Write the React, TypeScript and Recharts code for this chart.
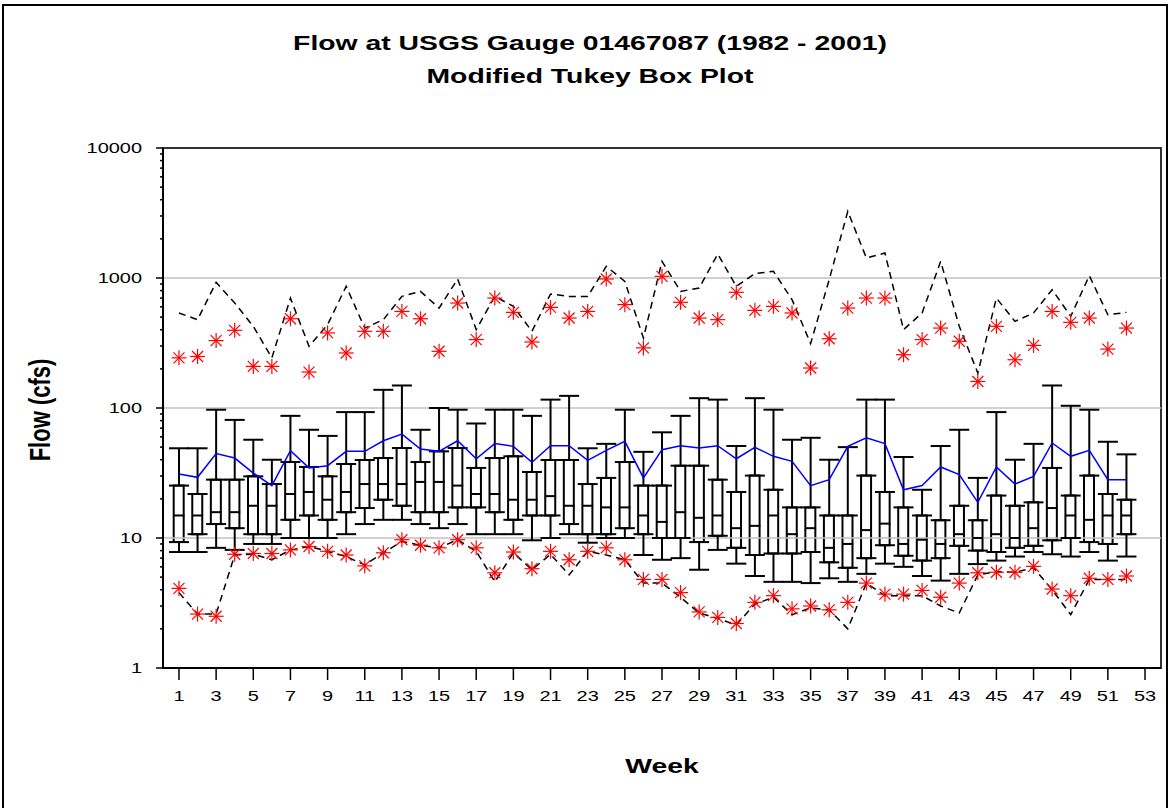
import {
  ComposedChart, Bar, Line, Scatter, ErrorBar, XAxis, YAxis, ReferenceLine, ReferenceArea,
} from 'recharts';

// weekly flow statistics, USGS gauge 01467087, 1982-2001 (cfs)
const weeks = Array.from({ length: 52 }, (_, i) => i + 1);

const whiskerHigh = [
  49, 49, 97, 81, 57, 40, 87, 68, 61, 93,
  93, 138, 149, 68, 100, 97, 76, 97, 97, 87,
  116, 124, 49, 53, 97, 46, 65, 87, 119, 116,
  51, 119, 97, 57, 59, 40, 50, 116, 116, 42,
  23.5, 51, 68, 29, 93, 40, 53, 149, 104, 97,
  55, 44,
];
const q3 = [
  25.3, 21.8, 28.1, 28.1, 29.8, 26, 38.4, 35.2, 29.8, 37.1,
  39.8, 41.2, 49.2, 38.4, 46.4, 49.2, 34.6, 41.2, 42.5, 32.2,
  39.8, 39.8, 26, 29, 38.4, 25.3, 25.3, 36, 36, 28.1,
  22.6, 30.2, 23.5, 17.2, 17.2, 14.9, 14.9, 30.2, 22.6, 17.2,
  14.9, 13.7, 17.7, 13.7, 21.2, 17.7, 18.8, 34.6, 21.2, 30.2,
  21.8, 19.7,
];
const median = [
  14.9, 14.9, 15.8, 15.8, 17.7, 17.7, 21.8, 22.6, 19.7, 22.6,
  26, 26, 26, 27, 27, 25.3, 21.8, 21.8, 19.7, 19.7,
  21, 17.7, 17.7, 17.2, 17.2, 14.9, 13.3, 15.8, 14.3, 14.9,
  11.9, 12.4, 14.9, 10.7, 11.9, 8.4, 9.0, 11.5, 12.9, 9.0,
  9.7, 9.0, 10.7, 10, 10.7, 10, 11.9, 17, 14.9, 13.8,
  14.9, 14.9,
];
const q1 = [
  9.3, 10.7, 12.8, 11.9, 10.7, 10.7, 13.8, 14.9, 13.8, 15.8,
  17, 19.7, 17.7, 15.8, 15.8, 17.2, 17.2, 15.8, 13.8, 14.9,
  14.9, 12.8, 10.7, 10.7, 11.9, 10.7, 10, 10, 9.3, 10.4,
  8.4, 7.4, 7.6, 7.6, 7.8, 6.5, 5.9, 7.0, 8.8, 7.3,
  6.7, 7.0, 8.7, 8.0, 7.8, 8.4, 8.7, 9.6, 10, 9.3,
  9.0, 10.7,
];
const whiskerLow = [
  7.8, 7.8, 8.4, 8.1, 9.0, 9.0, 10, 10, 10, 10.7,
  12.8, 13.8, 13.8, 12.8, 11.9, 12.8, 10.7, 10.7, 10.7, 9.6,
  10, 10.7, 9.2, 10, 10, 7.4, 6.8, 7.0, 5.7, 8.1,
  6.35, 5.1, 4.6, 4.6, 4.5, 4.9, 4.6, 5.3, 6.35, 6.0,
  5.1, 4.7, 5.3, 6.3, 6.7, 7.2, 7.8, 7.5, 7.2, 7.8,
  6.7, 7.2,
];
const mean = [
  31.1, 29.3, 44.6, 41.2, 31.6, 25.3, 47, 34.6, 36, 46.4,
  46.4, 56, 63, 48.4, 46.4, 56, 40.7, 53.2, 50.7, 38.2,
  51.3, 51.3, 39.6, 47.2, 55.4, 29, 47.8, 51.3, 49.2, 51.3,
  40.7, 49.8, 42.5, 38.9, 25.3, 28.1, 50.7, 59, 53.2, 23.5,
  25.3, 35.2, 30.7, 18.8, 35.2, 26, 29.8, 53.8, 42.5, 47.2,
  28.1, 28.1,
];
const maxFlow = [
  538, 478, 926, 642, 425, 243, 701, 298, 438, 863,
  412, 478, 722, 789, 587, 982, 401, 722, 605, 389,
  753, 722, 722, 1230, 942, 345, 1343, 789, 838, 1528,
  863, 1080, 1125, 681, 313, 971, 3260, 1426, 1556, 401,
  538, 1343, 425, 186, 701, 464, 538, 813, 507, 1042,
  522, 544,
];
const highStar = [
  243, 249, 330, 396, 209, 209, 486, 189, 378, 265,
  389, 389, 553, 486, 273, 642, 336, 701, 544, 322,
  594, 492, 553, 982, 624, 290, 1030, 650, 492, 478,
  776, 564, 605, 538, 203, 341, 587, 701, 701, 257,
  336, 412, 326, 160, 425, 235, 303, 553, 456, 492,
  284, 412,
];
const lowStar = [
  4.1, 2.6, 2.5, 7.5, 7.6, 7.6, 8.1, 8.6, 7.9, 7.4,
  6.1, 7.7, 9.7, 8.8, 8.4, 9.7, 8.4, 5.4, 7.8, 5.8,
  7.9, 6.8, 7.9, 8.4, 6.8, 4.8, 4.8, 3.8, 2.7, 2.45,
  2.2, 3.2, 3.6, 2.85, 3.0, 2.8, 3.2, 4.5, 3.7, 3.7,
  3.95, 3.5, 4.5, 5.4, 5.45, 5.45, 6.05, 4.05, 3.6, 4.9,
  4.8, 5.1,
];
const minFlow = [
  3.8, 2.6, 2.6, 7.4, 7.5, 6.8, 8.1, 8.6, 7.9, 7.2,
  6.2, 7.7, 9.4, 8.8, 8.4, 9.7, 7.9, 4.6, 7.7, 5.7,
  7.5, 5.2, 7.9, 7.4, 6.8, 4.5, 4.5, 3.5, 2.65, 2.4,
  2.15, 3.1, 3.5, 2.57, 2.9, 2.8, 2.0, 4.5, 3.6, 3.6,
  3.6, 3.0, 2.65, 5.2, 5.5, 5.45, 5.9, 4.0, 2.57, 4.8,
  4.8, 4.8,
];

const weekTicks = [1, 3, 5, 7, 9, 11, 13, 15, 17, 19, 21, 23, 25, 27, 29, 31, 33, 35, 37, 39, 41, 43, 45, 47, 49, 51, 53];
const decades = [1, 10, 100, 1000, 10000];
const minorSteps = [2, 3, 4, 5, 6, 7, 8, 9];
const gridValues = [10, 100, 1000];

const yTicks = [
  ...decades,
  ...decades.slice(0, 4).flatMap((d) => minorSteps.map((m) => m * d)),
].sort((a, b) => a - b);

const data = weeks.map((week, i) => ({
  week,
  box: [q1[i], q3[i]],
  q1: q1[i],
  q3: q3[i],
  median: median[i],
  upErr: [0, whiskerHigh[i] - q3[i]],
  lowErr: [q1[i] - whiskerLow[i], 0],
  mean: mean[i],
  max: maxFlow[i],
  min: minFlow[i],
  hi: highStar[i],
  lo: lowStar[i],
}));

const FONT = 'Liberation Sans, Arial, sans-serif';
const STRETCH = 1.33;

// red asterisk marker
const Star = (props: any) => {
  const { cx, cy } = props;
  if (cx == null || cy == null) return <g />;
  const r = 7.5;
  const d = 5.5;
  return (
    <g stroke="#ff0000" strokeWidth={1.2}>
      <line x1={cx - r} y1={cy} x2={cx + r} y2={cy} />
      <line x1={cx} y1={cy - r} x2={cx} y2={cy + r} />
      <line x1={cx - d} y1={cy - d} x2={cx + d} y2={cy + d} />
      <line x1={cx - d} y1={cy + d} x2={cx + d} y2={cy - d} />
    </g>
  );
};

const MedianMark = (props: any) => {
  const { cx, cy } = props;
  if (cx == null || cy == null) return <g />;
  return <line x1={cx - 5.5} x2={cx + 5.5} y1={cy} y2={cy} stroke="#000" strokeWidth={2} />;
};

const Nothing = () => <g />;

const YTick = (props: any) => {
  const { x, y, payload } = props;
  const v = payload.value;
  const major = decades.includes(v);
  const ax = x + 10;
  return (
    <g>
      <line x1={ax - (major ? 7 : 3)} x2={ax} y1={y} y2={y} stroke="#000" strokeWidth={1.5} />
      {major && (
        <text
          transform={`translate(${ax - 21},${y}) scale(${STRETCH},1)`}
          textAnchor="end"
          dy="0.36em"
          fontFamily={FONT}
          fontSize={15}
          fill="#000"
        >
          {v}
        </text>
      )}
    </g>
  );
};

const XTick = (props: any) => {
  const { x, y, payload } = props;
  return (
    <text
      transform={`translate(${x},${y}) scale(${STRETCH},1)`}
      textAnchor="middle"
      dy="0.71em"
      fontFamily={FONT}
      fontSize={15}
      fill="#000"
    >
      {payload.value}
    </text>
  );
};

export default function App() {
  return (
    <div style={{ position: 'absolute', left: 0, top: 0, width: 1169, height: 808, background: '#fff', overflow: 'hidden' }}>
      <div style={{ position: 'absolute', left: 2, top: 4, width: 1162, height: 830, border: '2px solid #000' }} />
      <ComposedChart
        width={1169}
        height={808}
        data={data}
        margin={{ top: 148, right: 8, bottom: 110, left: 103 }}
        style={{ position: 'absolute', left: 0, top: 0 }}
      >
        <XAxis
          type="number"
          dataKey="week"
          domain={[0.14, 53.86]}
          allowDataOverflow
          ticks={weekTicks}
          interval={0}
          tickSize={12}
          tickMargin={10}
          tick={<XTick />}
          tickLine={{ stroke: '#000', strokeWidth: 1.5 }}
          axisLine={{ stroke: '#000', strokeWidth: 2 }}
          height={30}
        />
        <YAxis
          scale="log"
          domain={[1, 10000]}
          allowDataOverflow
          ticks={yTicks}
          interval={0}
          tickSize={6}
          tickMargin={4}
          tickLine={false}
          tick={<YTick />}
          axisLine={{ stroke: '#000', strokeWidth: 2 }}
          width={60}
        />
        {gridValues.map((g) => (
          <ReferenceLine key={g} y={g} stroke="#c0c0c0" strokeWidth={1.5} />
        ))}
        <ReferenceArea x1={0.14} x2={53.86} y1={1} y2={10000} fill="none" stroke="#333" strokeWidth={2} />

        <Scatter dataKey="q3" shape={<Nothing />} isAnimationActive={false}>
          <ErrorBar dataKey="upErr" direction="y" width={10} stroke="#000" strokeWidth={2} isAnimationActive={false} />
        </Scatter>
        <Scatter dataKey="q1" shape={<Nothing />} isAnimationActive={false}>
          <ErrorBar dataKey="lowErr" direction="y" width={10} stroke="#000" strokeWidth={2} isAnimationActive={false} />
        </Scatter>
        <Bar dataKey="box" barSize={10} fill="#fff" stroke="#000" strokeWidth={2} isAnimationActive={false} />
        <Scatter dataKey="median" shape={<MedianMark />} isAnimationActive={false} />

        <Line type="linear" dataKey="max" stroke="#000" strokeWidth={1.5} strokeDasharray="7 5" dot={false} isAnimationActive={false} />
        <Line type="linear" dataKey="min" stroke="#000" strokeWidth={1.5} strokeDasharray="7 5" dot={false} isAnimationActive={false} />
        <Line type="linear" dataKey="mean" stroke="#0000ff" strokeWidth={1.5} dot={false} isAnimationActive={false} />
        <Scatter dataKey="hi" shape={<Star />} isAnimationActive={false} />
        <Scatter dataKey="lo" shape={<Star />} isAnimationActive={false} />
      </ComposedChart>
      <svg width={1169} height={808} style={{ position: 'absolute', left: 0, top: 0, pointerEvents: 'none' }}>
        <g fontFamily={FONT} fontWeight="bold" fontSize={21} fill="#000" textAnchor="middle">
          <text transform={`translate(590,50) scale(1.35,1)`}>Flow at USGS Gauge 01467087 (1982 - 2001)</text>
          <text transform={`translate(590,83) scale(1.35,1)`}>Modified Tukey Box Plot</text>
          <text transform={`translate(50,410) scale(1.35,1) rotate(-90)`} fontSize={22}>Flow (cfs)</text>
          <text transform={`translate(662,773) scale(1.35,1)`}>Week</text>
        </g>
      </svg>
    </div>
  );
}
